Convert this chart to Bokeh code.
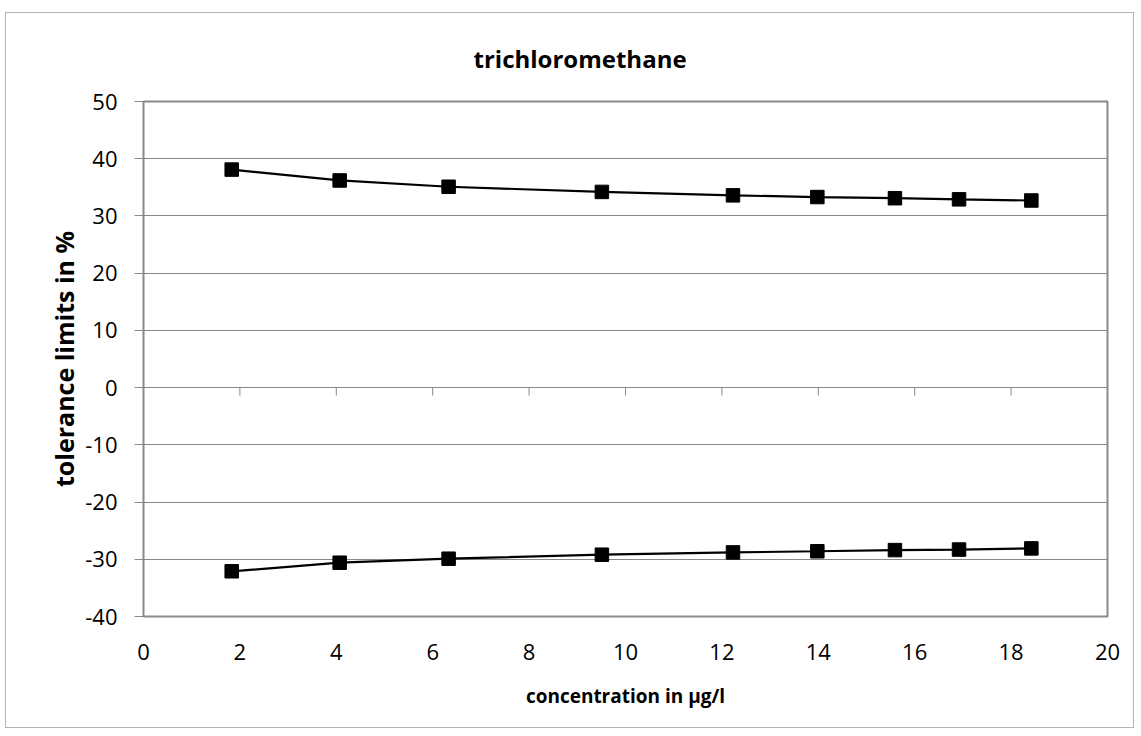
from bokeh.plotting import figure
from bokeh.models import Range1d, FixedTicker, Title
from bokeh.embed import file_html
from bokeh.resources import INLINE

# ---- data ----
conc = [1.83, 4.07, 6.33, 9.51, 12.23, 13.98, 15.59, 16.92, 18.42]
upper_limit = [38.1, 36.2, 35.1, 34.2, 33.6, 33.3, 33.1, 32.9, 32.7]
lower_limit = [-32.1, -30.6, -29.9, -29.2, -28.8, -28.6, -28.4, -28.3, -28.1]
x_ticks = [0, 2, 4, 6, 8, 10, 12, 14, 16, 18, 20]
y_ticks = [-40, -30, -20, -10, 0, 10, 20, 30, 40, 50]
title_text = "trichloromethane"
x_title = "concentration in µg/l"
y_title = "tolerance limits in %"

# ---- layout ----
W, H = 1129, 716
ML, MT, MR, MB = 137, 88, 28, 113
frame_h = H - MT - MB
FONT = "Open Sans"
GRAY = "#898989"

p = figure(width=W, height=H, output_backend="svg", toolbar_location=None,
           x_range=Range1d(x_ticks[0], x_ticks[-1]),
           y_range=Range1d(y_ticks[0], y_ticks[-1]),
           min_border_left=ML, min_border_top=MT, min_border_right=MR,
           min_border_bottom=MB, margin=(12, 0, 0, 5),
           styles={"border": "1px solid #b4b4b4"})

p.outline_line_color = GRAY
p.outline_line_width = 2
p.background_fill_color = "white"
p.border_fill_color = "white"

# grid
p.xgrid.visible = False
p.ygrid.ticker = FixedTicker(ticks=y_ticks)
p.ygrid.grid_line_color = GRAY
p.ygrid.grid_line_width = 1

# x axis (labels at bottom)
xa = p.xaxis[0]
xa.ticker = FixedTicker(ticks=x_ticks)
xa.major_label_overrides = {t: str(t) for t in x_ticks}
xa.axis_line_color = None
xa.major_tick_line_color = None
xa.minor_tick_line_color = None
xa.major_tick_out = 0
xa.major_tick_in = 0
xa.major_label_standoff = 27
xa.major_label_text_font = FONT
xa.major_label_text_font_size = "22px"
xa.major_label_text_color = "black"
xa.axis_label = x_title
xa.axis_label_text_font = FONT
xa.axis_label_text_font_size = "19px"
xa.axis_label_text_font_style = "bold"
xa.axis_label_text_color = "black"
xa.axis_label_standoff = 20

# y axis
ya = p.yaxis[0]
ya.ticker = FixedTicker(ticks=y_ticks)
ya.major_label_overrides = {t: str(t) for t in y_ticks}
ya.axis_line_color = None
ya.major_tick_line_color = GRAY
ya.major_tick_line_width = 1
ya.major_tick_out = 9
ya.major_tick_in = 0
ya.minor_tick_line_color = None
ya.major_label_standoff = 17
ya.major_label_text_font = FONT
ya.major_label_text_font_size = "22px"
ya.major_label_text_color = "black"
ya.axis_label = y_title
ya.axis_label_text_font = FONT
ya.axis_label_text_font_size = "25px"
ya.axis_label_text_font_style = "bold"
ya.axis_label_text_color = "black"
ya.axis_label_standoff = 1

# tick marks on the horizontal axis crossing at y = 0
tick_len = 8 * (y_ticks[-1] - y_ticks[0]) / frame_h
inner = x_ticks[1:-1]
p.segment(x0=inner, y0=[0] * len(inner), x1=inner, y1=[-tick_len] * len(inner),
          line_color=GRAY, line_width=1)

# series
for vals in (upper_limit, lower_limit):
    p.line(conc, vals, line_color="black", line_width=2.2)
    p.scatter(conc, vals, marker="square", size=13.5, fill_color="black",
              line_color="black", line_width=1)

# chart title
p.add_layout(Title(text=title_text, align="left", offset=330, standoff=50,
                   vertical_align="top",
                   text_font=FONT, text_font_size="24px",
                   text_font_style="bold", text_color="black"), "above")

open("out.html", "w").write(file_html(p, INLINE))
